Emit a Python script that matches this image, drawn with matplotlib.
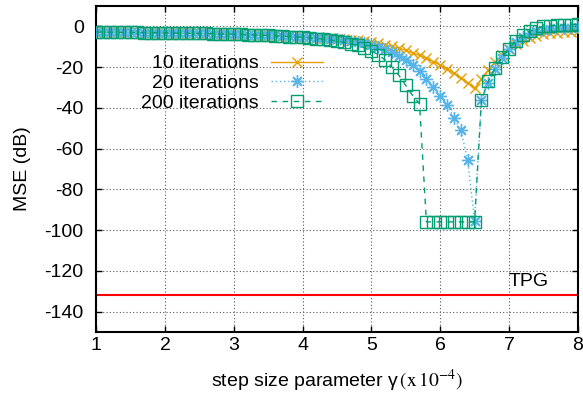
import matplotlib
matplotlib.use("Agg")
import matplotlib.pyplot as plt

plt.rcParams['font.family'] = ['Liberation Sans', 'DejaVu Sans']
plt.rcParams['mathtext.fontset'] = 'stix'
plt.rcParams['axes.unicode_minus'] = False

gamma = [1.0, 1.1, 1.2, 1.3, 1.4, 1.5, 1.6, 1.7, 1.8, 1.9,
         2.0, 2.1, 2.2, 2.3, 2.4, 2.5, 2.6, 2.7, 2.8, 2.9,
         3.0, 3.1, 3.2, 3.3, 3.4, 3.5, 3.6, 3.7, 3.8, 3.9,
         4.0, 4.1, 4.2, 4.3, 4.4, 4.5, 4.6, 4.7, 4.8, 4.9,
         5.0, 5.1, 5.2, 5.3, 5.4, 5.5, 5.6, 5.7, 5.8, 5.9,
         6.0, 6.1, 6.2, 6.3, 6.4, 6.5, 6.6, 6.7, 6.8, 6.9,
         7.0, 7.1, 7.2, 7.3, 7.4, 7.5, 7.6, 7.7, 7.8, 7.9, 8.0]

mse_10 = [-2.8, -2.8, -2.9, -2.9, -3.0, -3.0, -3.0, -3.1, -3.1, -3.2,
          -3.2, -3.3, -3.3, -3.4, -3.4, -3.5, -3.5, -3.6, -3.7, -3.8,
          -3.9, -4.0, -4.1, -4.2, -4.3, -4.4, -4.5, -4.6, -4.8, -5.0,
          -5.1, -5.3, -5.5, -5.7, -5.9, -6.1, -6.3, -6.6, -6.9, -7.3,
          -7.7, -8.3, -9.0, -9.8, -10.7, -11.8, -13.0, -14.3, -15.7, -17.3,
          -19.0, -21.0, -23.0, -25.3, -27.8, -30.5, -26.0, -21.5, -17.5, -14.0,
          -11.0, -8.8, -7.0, -5.7, -4.7, -4.0, -3.5, -3.1, -2.8, -2.6, -2.4]

mse_20 = [-2.8, -2.8, -2.9, -2.9, -3.0, -3.0, -3.0, -3.1, -3.1, -3.2,
          -3.2, -3.3, -3.3, -3.4, -3.4, -3.5, -3.5, -3.6, -3.7, -3.8,
          -3.9, -4.0, -4.1, -4.2, -4.3, -4.4, -4.5, -4.6, -4.8, -5.0,
          -5.2, -5.4, -5.6, -5.8, -6.1, -6.4, -6.8, -7.2, -7.7, -8.3,
          -9.0, -10.0, -11.2, -12.6, -14.5, -16.5, -19.0, -22.0, -26.0, -30.0,
          -34.0, -38.5, -45.0, -51.0, -65.5, -95.5, -36.0, -28.0, -21.0, -15.5,
          -11.0, -7.5, -5.0, -3.5, -2.5, -1.8, -1.3, -1.0, -0.8, -0.6, -0.5]

mse_200 = [-2.8, -2.8, -2.9, -2.9, -3.0, -3.0, -3.0, -3.1, -3.1, -3.2,
           -3.2, -3.3, -3.3, -3.4, -3.4, -3.5, -3.5, -3.6, -3.7, -3.8,
           -3.9, -4.0, -4.1, -4.2, -4.3, -4.5, -4.6, -4.8, -5.0, -5.2,
           -5.4, -5.7, -6.0, -6.3, -6.7, -7.2, -7.8, -8.5, -9.4, -10.5,
           -12.0, -14.0, -16.5, -20.0, -24.0, -29.0, -34.0, -38.0, -96.0, -96.0,
           -96.0, -96.0, -96.0, -96.0, -96.0, -96.0, -36.0, -27.0, -20.5, -15.0,
           -11.0, -7.0, -4.5, -2.5, -1.0, 0.0, 0.3, 0.5, 0.7, 0.8, 1.0]

tpg_level = -132.0
labels = ['10 iterations', '20 iterations', '200 iterations']
xticks = [1, 2, 3, 4, 5, 6, 7, 8]
yticks = [0, -20, -40, -60, -80, -100, -120, -140]

c10 = '#E69F00'
c20 = '#56B4E9'
c200 = '#009E73'
FS = 14

fig = plt.figure(figsize=(5.83, 3.97), dpi=100)
ax = fig.add_axes([0.165, 0.164, 0.826, 0.821])

ax.axhline(tpg_level, color='#FF0000', lw=1.5, zorder=2)
ax.text(7.0, tpg_level + 6.5, 'TPG', fontsize=FS, ha='left', va='center')

ax.plot(gamma, mse_10, color=c10, lw=1.0, ls='-', marker='x', ms=7.5, mew=1.0,
        label=labels[0], zorder=3)
ax.plot(gamma, mse_20, color=c20, lw=1.0, ls=(0, (1, 2)), marker=(8, 2, 0), ms=9, mew=1.0,
        label=labels[1], zorder=4)
ax.plot(gamma, mse_200, color=c200, lw=1.0, ls=(0, (4, 4)), marker='s', ms=9, mew=1.0,
        mfc='none', label=labels[2], zorder=5)

ax.set_xlim(1, 8)
ax.set_ylim(-150, 10)
ax.set_xticks(xticks)
ax.set_yticks(yticks)
ax.grid(True, color='0.35', ls=(0, (1, 2)), lw=0.8)
ax.tick_params(direction='in', top=True, right=True, length=4, width=1, labelsize=FS)
ax.tick_params(axis='x', pad=4)
ax.tick_params(axis='y', pad=9)
for s in ax.spines.values():
    s.set_linewidth(1.5)

ax.set_xlabel(r'step size parameter γ$\,(\mathrm{x}\,10^{-4})$', fontsize=FS, labelpad=10)
ax.set_ylabel('MSE (dB)', fontsize=FS, labelpad=10)

leg = ax.legend(loc='upper right', bbox_to_anchor=(0.471, 0.85), frameon=False,
                markerfirst=False, handlelength=2.7, handletextpad=0.6,
                labelspacing=0.1, fontsize=FS, borderpad=0, borderaxespad=0, numpoints=1)
for col in leg._legend_handle_box.get_children():
    col.align = 'right'

fig.savefig('out.png', dpi=100)
